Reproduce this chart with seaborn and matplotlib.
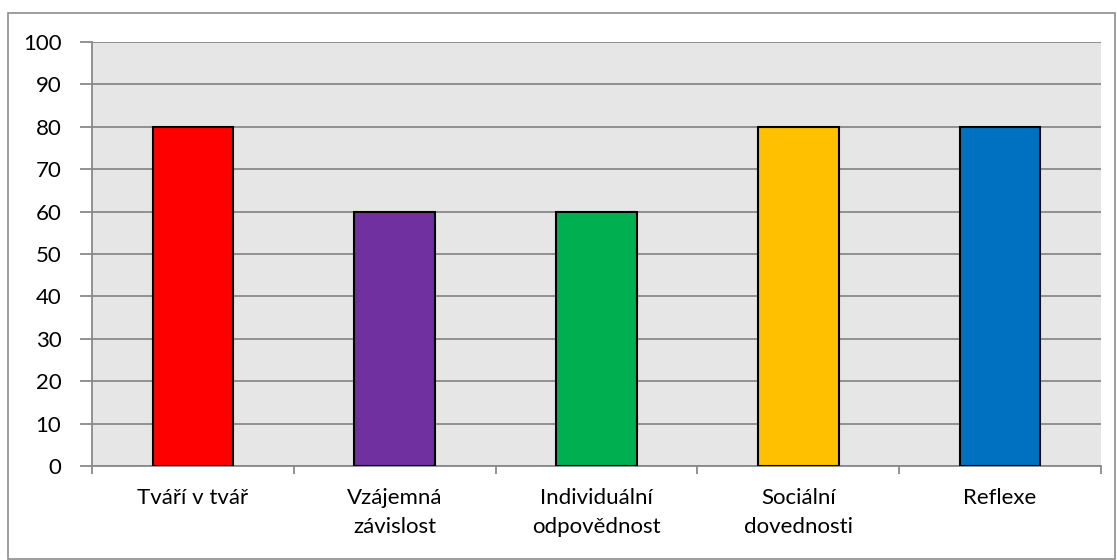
import matplotlib
matplotlib.use("Agg")
import matplotlib.pyplot as plt
import seaborn as sns
import pandas as pd
from matplotlib.patches import Rectangle

categories = ["Tváří v tvář", "Vzájemná\nzávislost", "Individuální\nodpovědnost",
              "Sociální\ndovednosti", "Reflexe"]
values = [80, 60, 60, 80, 80]
colors = ["#FF0000", "#7030A0", "#00B050", "#FFC000", "#0070C0"]
y_ticks = list(range(0, 101, 10))

sns.set_theme(style="white")
plt.rcParams["font.family"] = ["Lato", "DejaVu Sans"]

df = pd.DataFrame({"kategorie": categories, "hodnota": values})

fig = plt.figure(figsize=(11.17, 5.6), dpi=100)
ax = fig.add_axes([92 / 1117, 1 - 466 / 560, (1101 - 92) / 1117, (466 - 42) / 560])

# outer chart frame
fig.patches.append(Rectangle((8 / 1117, 0.002), 1107 / 1117, 1 - 13 / 560 - 0.002,
                             transform=fig.transFigure, fill=False,
                             edgecolor="#8c8c8c", linewidth=1.2, zorder=0))

ax.set_facecolor("#e6e6e6")
sns.barplot(data=df, x="kategorie", y="hodnota", hue="kategorie", palette=colors,
            legend=False, width=0.4, edgecolor="black", linewidth=1.5,
            saturation=1, ax=ax, zorder=3)

ax.set_ylim(0, 100)
ax.set_xlim(-0.5, len(categories) - 0.5)
ax.set_yticks(y_ticks)
ax.set_yticklabels([str(t) for t in y_ticks], fontsize=16, color="black")
ax.yaxis.grid(True, color="#898989", linewidth=1.3, zorder=1)
ax.set_axisbelow(True)

# category labels centered, tick marks at category boundaries
ax.set_xticks(range(len(categories)))
ax.set_xticklabels(categories, fontsize=16, color="black", linespacing=1.55)
ax.tick_params(axis="x", length=0, pad=16)
ax.set_xticks([i - 0.5 for i in range(len(categories) + 1)], minor=True)
ax.tick_params(axis="x", which="minor", length=6, width=1.3, color="#898989",
               direction="out", bottom=True)
ax.tick_params(axis="y", length=9, width=1.3, color="#898989", direction="out",
               left=True, pad=13)

ax.set_xlabel("")
ax.set_ylabel("")
for side in ["top", "right"]:
    ax.spines[side].set_visible(False)
for side in ["left", "bottom"]:
    ax.spines[side].set_color("#898989")
    ax.spines[side].set_linewidth(1.3)

fig.savefig("out.png", dpi=100, facecolor="white")
